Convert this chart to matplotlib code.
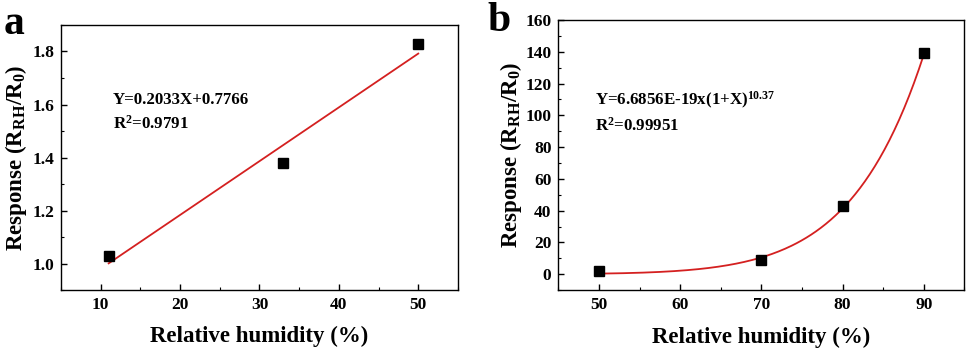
import numpy as np
import matplotlib
matplotlib.use("Agg")
import matplotlib.pyplot as plt
from matplotlib.ticker import MultipleLocator

plt.rcParams['font.family'] = ['Liberation Serif', 'DejaVu Serif']
plt.rcParams['font.weight'] = 'bold'
plt.rcParams['mathtext.fontset'] = 'custom'
plt.rcParams['mathtext.rm'] = 'Liberation Serif:bold'
plt.rcParams['mathtext.it'] = 'Liberation Serif:italic:bold'
plt.rcParams['mathtext.bf'] = 'Liberation Serif:bold'

# Panel a data
rh_a = [11, 33, 50]
resp_a = [1.03, 1.38, 1.83]
# Panel b data
rh_b = [50, 70, 80, 90]
resp_b = [2, 9, 43, 139]
# fit parameters for panel b
fit_b_coef = 6.6856e-19
fit_b_exp = 10.37

red = '#d42020'

fig = plt.figure(figsize=(9.69, 3.52), dpi=100)
ax1 = fig.add_axes([0.063, 0.176, 0.4096, 0.753])
ax2 = fig.add_axes([0.5762, 0.176, 0.419, 0.767])

# Panel a
p = np.polyfit(rh_a, resp_a, 1)
xa = np.linspace(min(rh_a), max(rh_a), 50)
ax1.plot(xa, np.polyval(p, xa), color=red, lw=1.3, zorder=2)
ax1.plot(rh_a, resp_a, 's', color='black', ms=6.8, zorder=3)
ax1.set_xlim(5, 55)
ax1.set_ylim(0.9, 1.9)
ax1.xaxis.set_major_locator(MultipleLocator(10))
ax1.xaxis.set_minor_locator(MultipleLocator(5))
ax1.yaxis.set_major_locator(MultipleLocator(0.2))
ax1.yaxis.set_minor_locator(MultipleLocator(0.1))
ax1.set_yticks([1.0, 1.2, 1.4, 1.6, 1.8])
ax1.text(11.5, 1.616, 'Y=0.2033X+0.7766', fontsize=12.2, fontweight='bold', va='center')
ax1.text(11.5, 1.529, 'R$^{2}$=0.9791', fontsize=12.2, fontweight='bold', va='center')

# Panel b
xb = np.linspace(min(rh_b), max(rh_b), 200)
ax2.plot(xb, fit_b_coef * (1 + xb) ** fit_b_exp, color=red, lw=1.3, zorder=2)
ax2.plot(rh_b, resp_b, 's', color='black', ms=7, zorder=3)
ax2.set_xlim(45, 95)
ax2.set_ylim(-10, 160)
ax2.xaxis.set_major_locator(MultipleLocator(10))
ax2.xaxis.set_minor_locator(MultipleLocator(5))
ax2.yaxis.set_major_locator(MultipleLocator(20))
ax2.yaxis.set_minor_locator(MultipleLocator(10))
ax2.set_xticks([50, 60, 70, 80, 90])
ax2.text(49.5, 109.7, 'Y=6.6856E-19x(1+X)$^{10.37}$', fontsize=12.2, fontweight='bold', va='center')
ax2.text(49.5, 93.3, 'R$^{2}$=0.99951', fontsize=12.2, fontweight='bold', va='center')

label_x = {ax1: -0.081, ax2: -0.085}
for ax in (ax1, ax2):
    ax.tick_params(which='major', direction='in', length=4, width=1, labelsize=12.5, pad=5)
    ax.tick_params(which='minor', direction='in', length=2.5, width=0.8)
    for lab in ax.get_xticklabels() + ax.get_yticklabels():
        lab.set_fontweight('bold')
    for s in ax.spines.values():
        s.set_linewidth(1.0)
    ax.set_xlabel('Relative humidity (%)', fontsize=16.5, fontweight='bold')
    ax.set_ylabel('Response (R$_{\\mathrm{RH}}$/R$_{0}$)', fontsize=16.5, fontweight='bold')
    ax.yaxis.set_label_coords(label_x[ax], 0.5)
    ax.xaxis.set_label_coords(0.5, -0.135)

fig.text(0.004, 0.985, 'a', fontsize=30, fontweight='bold', va='top', ha='left')
fig.text(0.503, 0.995, 'b', fontsize=30, fontweight='bold', va='top', ha='left')

fig.savefig('out.png', dpi=100)
